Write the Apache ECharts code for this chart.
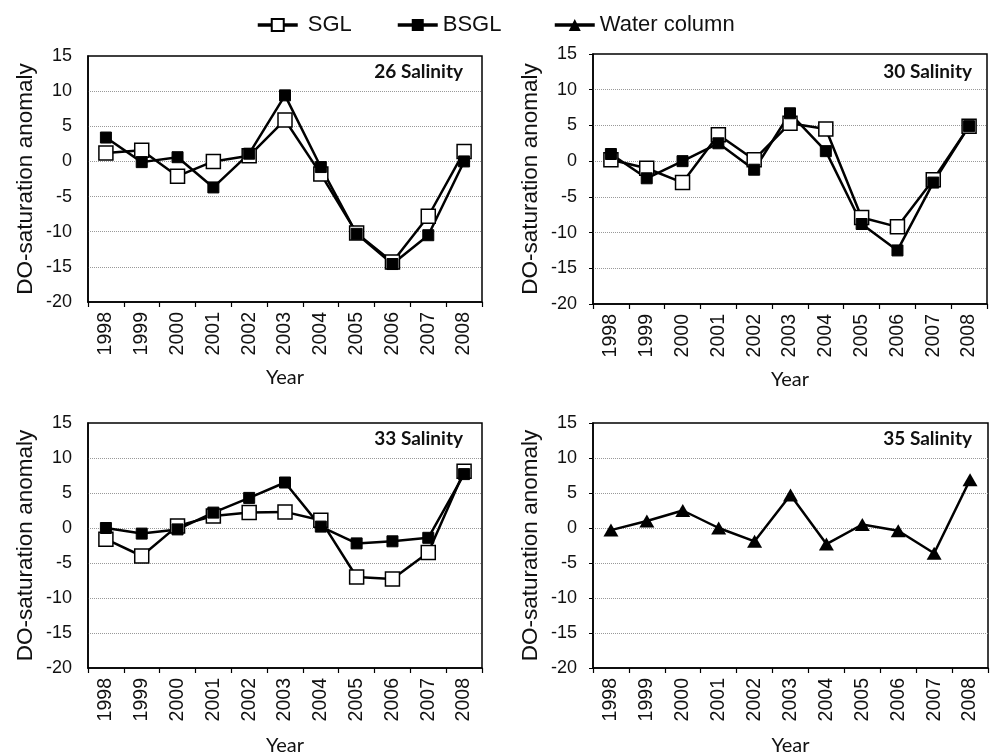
<!DOCTYPE html>
<html>
<head>
<meta charset="utf-8">
<script src="https://cdn.jsdelivr.net/npm/echarts@6/dist/echarts.min.js"></script>
<style>
  html, body { margin: 0; padding: 0; background: #fff; }
  #chart { width: 990px; height: 754px; }
</style>
</head>
<body>
<div id="chart"></div>
<script>
// years on the x axis
const years = ['1998', '1999', '2000', '2001', '2002', '2003', '2004', '2005', '2006', '2007', '2008']

// 26 salinity
const sgl26 = [1.2, 1.6, -2.1, 0.0, 0.8, 5.9, -1.8, -10.2, -14.3, -7.8, 1.4]
const bsgl26 = [3.4, -0.1, 0.6, -3.7, 1.1, 9.4, -0.8, -10.3, -14.6, -10.5, 0.0]
// 30 salinity
const sgl30 = [0.2, -1.0, -3.0, 3.7, 0.2, 5.3, 4.5, -7.9, -9.2, -2.6, 4.9]
const bsgl30 = [1.0, -2.4, 0.0, 2.5, -1.2, 6.7, 1.4, -8.8, -12.5, -3.0, 4.9]
// 33 salinity
const sgl33 = [-1.6, -4.0, 0.3, 1.7, 2.2, 2.3, 1.1, -7.0, -7.3, -3.5, 8.1]
const bsgl33 = [0.0, -0.8, -0.2, 2.2, 4.3, 6.5, 0.2, -2.2, -1.9, -1.4, 7.7]
// 35 salinity (water column only)
const water35 = [-0.3, 1.0, 2.5, 0.0, -1.9, 4.7, -2.3, 0.5, -0.4, -3.6, 6.9]

const panelTitles = ['26 Salinity', '30 Salinity', '33 Salinity', '35 Salinity']
const yMin = -20
const yMax = 15
const yStep = 5

const chart = echarts.init(document.getElementById('chart'))

const grids = [
    { left: 88, top: 56, width: 394, height: 246 },
    { left: 593, top: 54, width: 394, height: 250 },
    { left: 88, top: 423, width: 394, height: 245 },
    { left: 593, top: 423, width: 395, height: 245 }
]

const xAxes = grids.map((g, i) => {
    return {
        type: 'category',
        gridIndex: i,
        data: years,
        boundaryGap: true,
        axisLine: { onZero: false, lineStyle: { color: '#000', width: 1.5 } },
        axisTick: { show: true, length: 5, lineStyle: { color: '#000', width: 1.2 } },
        axisLabel: {
            interval: 0,
            rotate: 90,
            margin: 10,
            fontSize: 19.5,
            color: '#111',
            fontFamily: 'Liberation Sans'
        },
        name: 'Year',
        nameLocation: 'middle',
        nameGap: i < 2 ? 66 : 68,
        nameTextStyle: { fontFamily: 'Lato', fontSize: 20, color: '#111' }
    }
})

const yAxes = grids.map((g, i) => {
    return {
        type: 'value',
        gridIndex: i,
        min: yMin,
        max: yMax,
        interval: yStep,
        axisLine: { show: true, onZero: false, lineStyle: { color: '#000', width: 1.5 } },
        axisTick: { show: i % 2 === 1, length: 4, lineStyle: { color: '#000' } },
        axisLabel: {
            margin: 16,
            fontSize: 18,
            color: '#111',
            fontFamily: 'Liberation Sans'
        },
        splitLine: {
            show: true,
            showMinLine: false,
            showMaxLine: false,
            lineStyle: { color: '#999', type: 'dotted', width: 1 }
        },
        name: 'DO-saturation anomaly',
        nameLocation: 'middle',
        nameGap: 51,
        nameTextStyle: { fontFamily: 'Liberation Sans', fontSize: 22.5, color: '#111' }
    }
})

const sglStyle = (data, idx) => ({
    name: 'SGL',
    type: 'line',
    xAxisIndex: idx,
    yAxisIndex: idx,
    data: data,
    symbol: 'rect',
    symbolSize: 14,
    lineStyle: { color: '#000', width: 2.5 },
    itemStyle: { color: '#fff', borderColor: '#000', borderWidth: 1.5 }
})

const bsglStyle = (data, idx) => ({
    name: 'BSGL',
    type: 'line',
    xAxisIndex: idx,
    yAxisIndex: idx,
    data: data,
    symbol: 'rect',
    symbolSize: 11,
    lineStyle: { color: '#000', width: 2.5 },
    itemStyle: { color: '#000', borderColor: '#000' }
})

const legendBase = {
    top: 14,
    itemWidth: 40,
    itemHeight: 15,
    padding: 0,
    lineStyle: { width: 3.5 },
    textStyle: { fontFamily: 'Liberation Sans', fontSize: 22, color: '#111' }
}

const option = {
    animation: false,
    backgroundColor: '#fff',
    title: panelTitles.map((t, i) => ({
        text: t,
        right: i % 2 === 0 ? 527 : 18,
        top: i < 2 ? 62 : 429,
        padding: 0,
        textStyle: { fontFamily: 'Lato', fontWeight: 'bold', fontSize: 19, color: '#111' }
    })),
    legend: [
        Object.assign({}, legendBase, { data: ['SGL'], left: 256, textStyle: Object.assign({}, legendBase.textStyle, { padding: [0, 0, 0, 5] }) }),
        Object.assign({}, legendBase, { data: ['BSGL'], left: 396 }),
        Object.assign({}, legendBase, { data: ['Water column'], left: 553 })
    ],
    grid: grids.map(g => Object.assign({ show: true, borderColor: '#000', borderWidth: 1.5, containLabel: false, outerBoundsMode: 'none' }, g)),
    xAxis: xAxes,
    yAxis: yAxes,
    series: [
        sglStyle(sgl26, 0),
        bsglStyle(bsgl26, 0),
        sglStyle(sgl30, 1),
        bsglStyle(bsgl30, 1),
        sglStyle(sgl33, 2),
        bsglStyle(bsgl33, 2),
        {
            name: 'Water column',
            type: 'line',
            xAxisIndex: 3,
            yAxisIndex: 3,
            data: water35,
            symbol: 'triangle',
            symbolSize: [15, 13],
            lineStyle: { color: '#000', width: 2.5 },
            itemStyle: { color: '#000' }
        }
    ]
}

chart.setOption(option)
</script>
</body>
</html>
